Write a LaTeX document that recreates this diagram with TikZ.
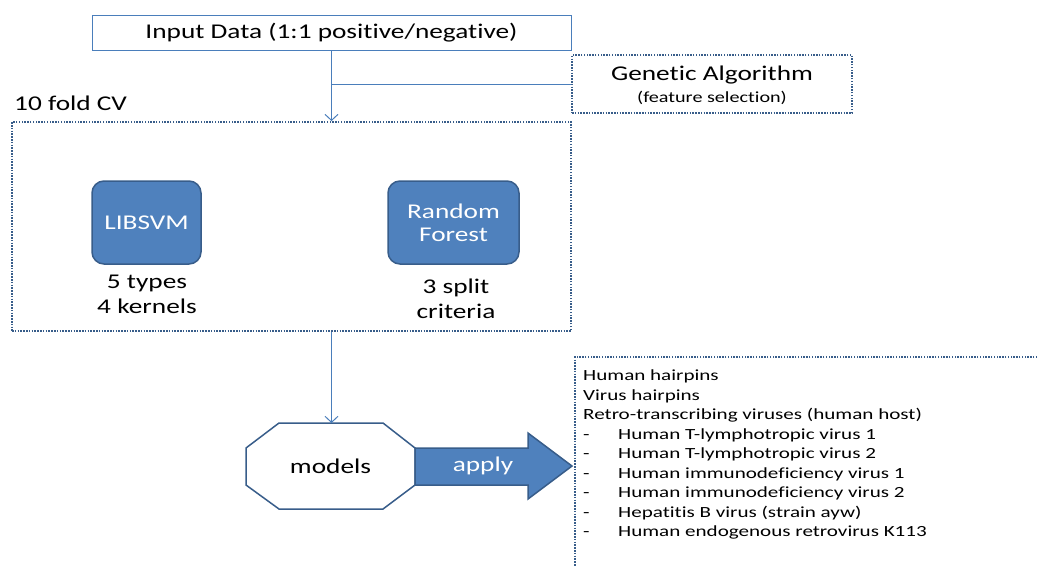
\documentclass[tikz,border=0pt]{standalone}
\usepackage{fontspec}
\setmainfont{Carlito}[Ligatures=NoCommon]
\newfontfamily\wide{Carlito}[FakeStretch=1.3,Ligatures=NoCommon]
\newfontfamily\listwide{Carlito}[FakeStretch=1.36,Ligatures=NoCommon]
\usetikzlibrary{arrows.meta}
\definecolor{fillblue}{HTML}{4F81BD}
\definecolor{edgeblue}{HTML}{385D8A}
\definecolor{lineblue}{HTML}{4A7EBB}
\tikzset{
  px/.style={x=1pt,y=-1pt},
  dotbox/.style={draw=edgeblue, line width=1.9pt, dash pattern=on 1.5pt off 1.3pt},
  conn/.style={draw=lineblue, line width=1pt},
  arr/.style={conn, -{Straight Barb[length=6pt,width=13pt,line width=1pt]}},
  big/.style={font=\wide\fontsize{21}{25}\selectfont},
  bluebox/.style={big, fill=fillblue, draw=edgeblue, line width=1.5pt, rounded corners=12pt, text=white, align=center},
  lbl/.style={big, align=center, inner sep=0pt},
}
\begin{document}
\begin{tikzpicture}[px]
\useasboundingbox (0,0) rectangle (1038,565);
% input
\node[big, draw=lineblue, line width=1pt, minimum width=479pt, minimum height=35pt, inner sep=0pt] (input) at (331.5,32.5) {Input Data (1:1 positive/negative)};
% GA
\node[dotbox, minimum width=280pt, minimum height=58pt, inner sep=0pt] (ga) at (712,84) {};
\node[big, inner sep=0pt] (gat) at (712,75) {Genetic Algorithm};
\node[font=\wide\fontsize{15.5}{18}\selectfont, inner sep=0pt] (gas) at (712,98) {(feature selection)};
% CV box
\node[dotbox, minimum width=559pt, minimum height=209pt, inner sep=0pt] (cv) at (291.5,226.5) {};
\node[big, anchor=west, inner sep=0pt] (cvl) at (14,103) {10 fold CV};
\coordinate (join) at (331.5,84);
\draw[arr] (input.south) -- (cv.north -| input.south);
\draw[conn] (join) -- (ga.west);
% models
\node[bluebox, minimum width=109pt, minimum height=83pt, inner sep=0pt] (svm) at (146.5,222.5) {LIBSVM};
\node[bluebox, minimum width=131pt, minimum height=83pt, inner sep=0pt] (rf) at (453.5,222.5) {Random\\[-2pt]Forest};
\node[lbl] (svml) at (147,294.5) {5 types\\4 kernels};
\node[lbl] (rfl) at (456,298.5) {3 split\\criteria};
% octagon
\path[draw=edgeblue, line width=1.5pt, fill=white] (279,423) -- (383,423) -- (415,448) -- (415,485) -- (383,509) -- (279,509) -- (246,485) -- (246,448) -- cycle;
\node[big, minimum width=100pt, minimum height=60pt] (models) at (330.5,466) {models};
\coordinate (octtop) at (331.5,423);
\draw[arr] (cv.south -| octtop) -- (octtop);
% apply arrow
\path[fill=fillblue, draw=edgeblue, line width=1.5pt] (415,448) -- (528,448) -- (528,433) -- (572,466) -- (528,499) -- (528,485) -- (415,485) -- cycle;
\node[big, text=white, inner sep=0pt] (apply) at (483,466) {apply};
% list box
\draw[dotbox] (1040,357) -- (575,357) -- (575,567);
\node[anchor=north west, align=left, inner sep=0pt, font=\listwide\fontsize{15.5}{19.5}\selectfont] (list) at (583,370) {Human hairpins\\
Virus hairpins\\
Retro-transcribing viruses (human host)\\
\makebox[35pt][l]{-}Human T-lymphotropic virus 1\\
\makebox[35pt][l]{-}Human T-lymphotropic virus 2\\
\makebox[35pt][l]{-}Human immunodeficiency virus 1\\
\makebox[35pt][l]{-}Human immunodeficiency virus 2\\
\makebox[35pt][l]{-}Hepatitis B virus (strain ayw)\\
\makebox[35pt][l]{-}Human endogenous retrovirus K113};
\end{tikzpicture}
\end{document}
